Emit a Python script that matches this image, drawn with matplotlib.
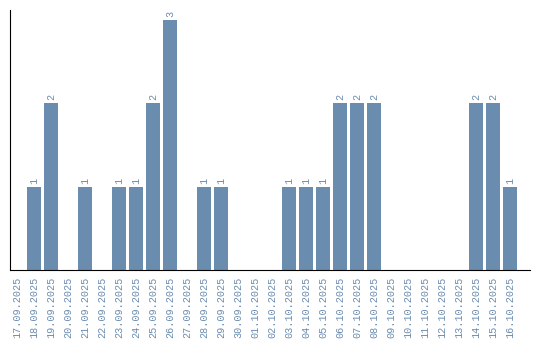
import matplotlib
matplotlib.use("Agg")
import matplotlib.pyplot as plt

dates = ["17.09.2025", "18.09.2025", "19.09.2025", "20.09.2025", "21.09.2025",
         "22.09.2025", "23.09.2025", "24.09.2025", "25.09.2025", "26.09.2025",
         "27.09.2025", "28.09.2025", "29.09.2025", "30.09.2025", "01.10.2025",
         "02.10.2025", "03.10.2025", "04.10.2025", "05.10.2025", "06.10.2025",
         "07.10.2025", "08.10.2025", "09.10.2025", "10.10.2025", "11.10.2025",
         "12.10.2025", "13.10.2025", "14.10.2025", "15.10.2025", "16.10.2025"]
counts = [0, 1, 2, 0, 1, 0, 1, 1, 2, 3, 0, 1, 1, 0, 0, 0, 1, 1, 1, 2, 2, 2,
          0, 0, 0, 0, 0, 2, 2, 1]

bar_color = "#6a8caf"
text_color = "#6a8caf"
font = ["Liberation Mono", "DejaVu Sans Mono"]

fig = plt.figure(figsize=(5.4, 3.4), dpi=100)
ax = fig.add_axes([10/540, 1-270/340, 520/540, 260/340])
x = list(range(len(dates)))
ax.bar(x, counts, width=0.82, color=bar_color)
for xi, c in zip(x, counts):
    if c > 0:
        ax.text(xi, c + 0.035, str(c), rotation=90, ha="center", va="bottom",
                fontsize=7.3, color=text_color, family=font)
ax.set_xlim(-0.41, 30.18)
ax.set_ylim(0, 3.12)
ax.set_xticks(x)
ax.set_xticklabels(dates, rotation=90, fontsize=7.3, color=text_color,
                   family=font)
ax.tick_params(axis="x", length=0, pad=5)
ax.set_yticks([])
ax.spines["top"].set_visible(False)
ax.spines["right"].set_visible(False)
fig.savefig("out.png", dpi=100)
